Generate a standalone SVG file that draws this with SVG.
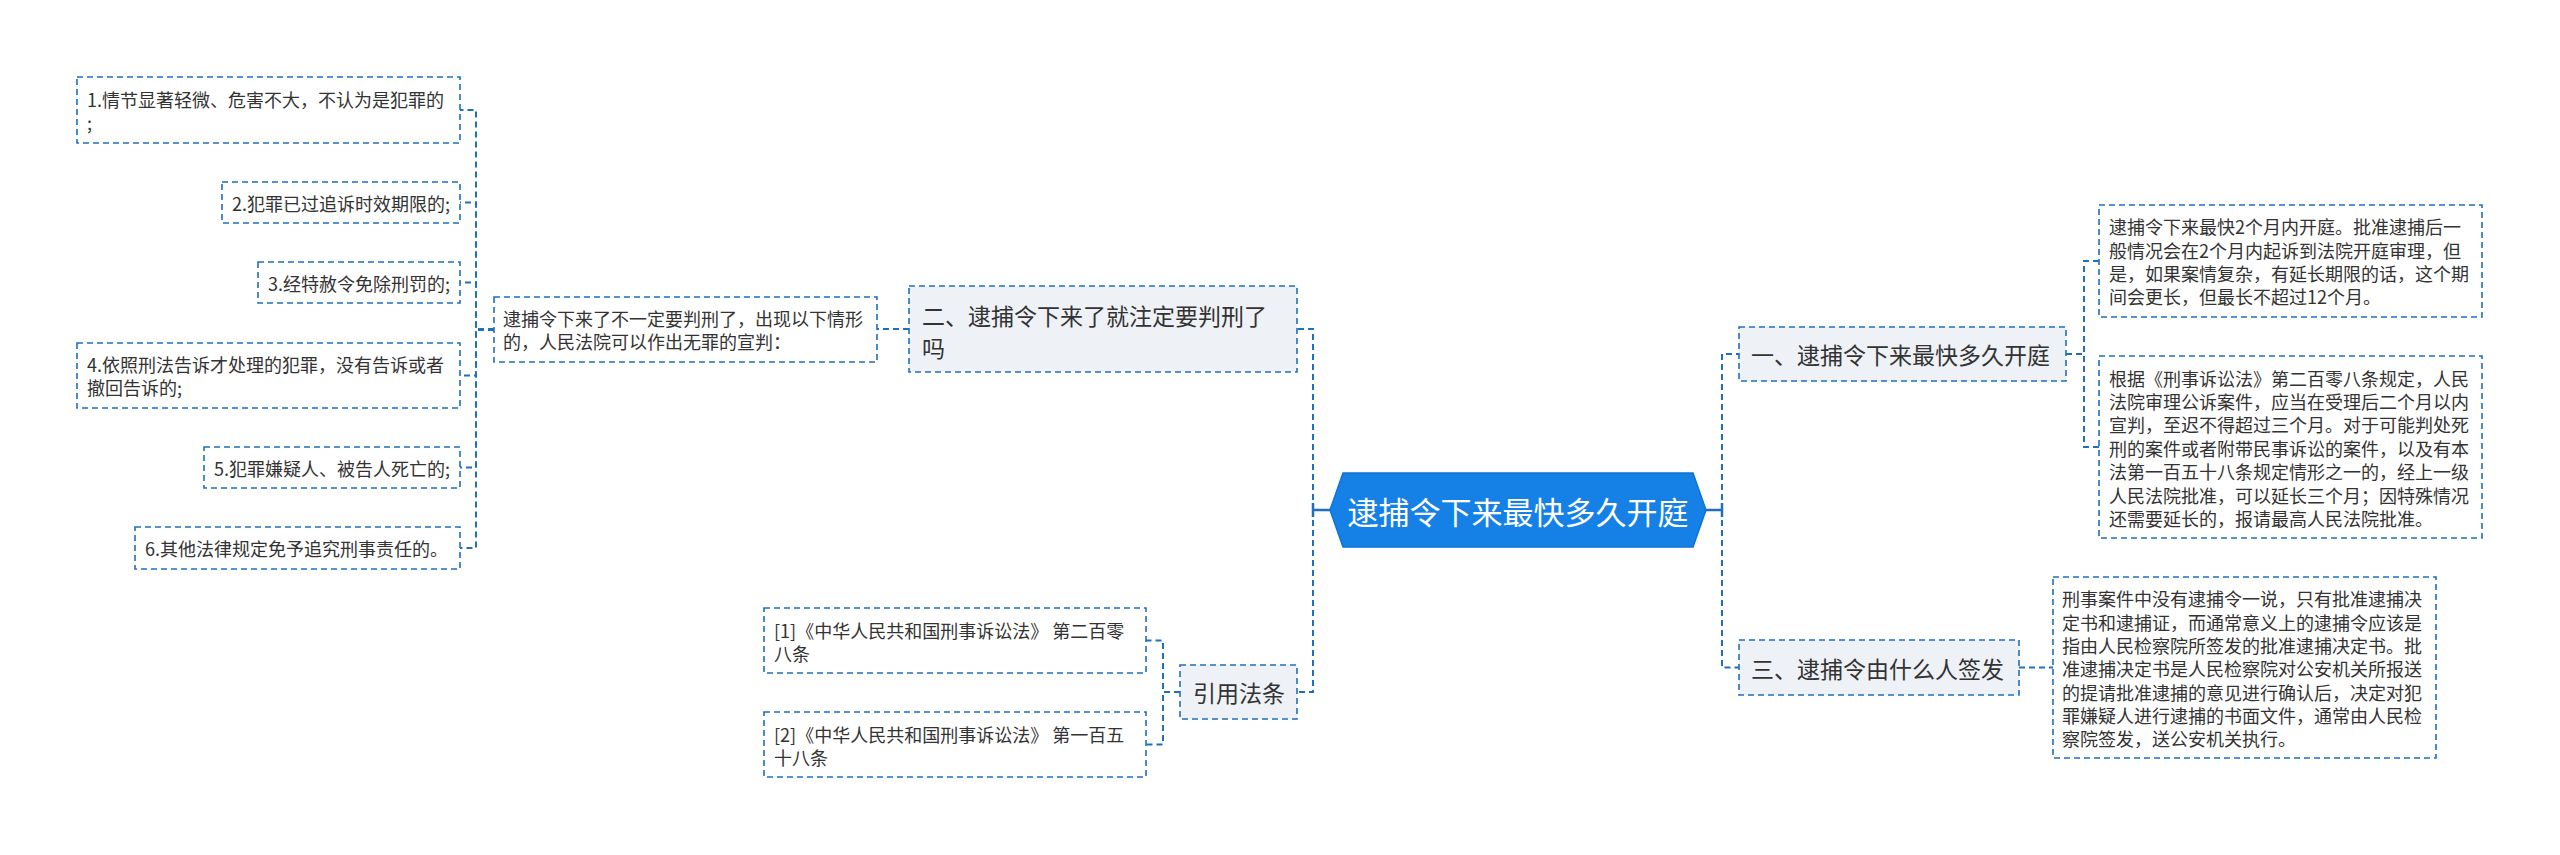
<svg xmlns="http://www.w3.org/2000/svg" width="2560" height="855" viewBox="0 0 2560 855">
<style>
text{font-family:"Noto Sans CJK SC","Noto Sans",sans-serif;fill:#333;dominant-baseline:central}
.leaf{fill:#fff;stroke:#1f6fbf;stroke-width:1.6;stroke-dasharray:6 4}
.sub{fill:#eef1f5;stroke:#1f6fbf;stroke-width:1.6;stroke-dasharray:6 4}
.t18{font-size:18px}
.t23{font-size:23px}
.con{fill:none;stroke:#1f6fbf;stroke-width:2;stroke-dasharray:6 4}
.solid{fill:none;stroke:#1f6fbf;stroke-width:2.5}
</style>
<rect width="2560" height="855" fill="#fff"/>
<g id="connectors">
<path class="solid" d="M1330 510H1313M1313 503V517"/>
<path class="con" d="M1313 510V329H1297"/>
<path class="con" d="M1313 510V692H1297"/>
<path class="solid" d="M1706 510H1722M1722 503V517"/>
<path class="con" d="M1722 510V354H1739"/>
<path class="con" d="M1722 510V667.5H1739"/>
<path class="con" d="M909 329H877"/>
<path class="con" d="M494 329.5H476V110H460"/>
<path class="con" d="M494 329.5H476V202.5H460"/>
<path class="con" d="M494 329.5H476V282.5H460"/>
<path class="con" d="M494 329.5H476V375.5H460"/>
<path class="con" d="M494 329.5H476V467.5H460"/>
<path class="con" d="M494 329.5H476V548H460"/>
<path class="con" d="M2066 354H2084V261H2099"/>
<path class="con" d="M2066 354H2084V447H2099"/>
<path class="con" d="M2019 667.5H2053"/>
<path class="con" d="M1180 692H1163V640.5H1146"/>
<path class="con" d="M1180 692H1163V744.5H1146"/>
</g>
<g id="center">
<polygon points="1343,473 1693,473 1706,510 1693,547 1343,547 1330,510" fill="#1581e6" stroke="#1172d6" stroke-width="1.5"/>
<text x="1518" y="510" font-size="31" text-anchor="middle" style="fill:#fff">逮捕令下来最快多久开庭</text>
</g>
<g id="node-er">
<rect class="sub" x="909" y="286" width="388" height="86"/>
<text class="t23" x="922" y="315">二、逮捕令下来了就注定要判刑了</text>
<text class="t23" x="922" y="347">吗</text>
</g>
<g id="node-er-detail">
<rect class="leaf" x="494" y="297" width="383" height="65"/>
<text class="t18" x="503" y="318">逮捕令下来了不一定要判刑了，出现以下情形</text>
<text class="t18" x="503" y="341">的，人民法院可以作出无罪的宣判：</text>
</g>
<g id="leaf-1">
<rect class="leaf" x="77" y="77" width="383" height="66"/>
<text class="t18" x="87" y="99">1.情节显著轻微、危害不大，不认为是犯罪的</text>
<text class="t18" x="87" y="122">;</text>
</g>
<g id="leaf-2">
<rect class="leaf" x="222" y="182" width="238" height="41"/>
<text class="t18" x="232" y="202.5">2.犯罪已过追诉时效期限的;</text>
</g>
<g id="leaf-3">
<rect class="leaf" x="258" y="262" width="202" height="41"/>
<text class="t18" x="268" y="282.5">3.经特赦令免除刑罚的;</text>
</g>
<g id="leaf-4">
<rect class="leaf" x="77" y="343" width="383" height="65"/>
<text class="t18" x="87" y="364">4.依照刑法告诉才处理的犯罪，没有告诉或者</text>
<text class="t18" x="87" y="387">撤回告诉的;</text>
</g>
<g id="leaf-5">
<rect class="leaf" x="204" y="447" width="256" height="41"/>
<text class="t18" x="214" y="467.5">5.犯罪嫌疑人、被告人死亡的;</text>
</g>
<g id="leaf-6">
<rect class="leaf" x="135" y="527" width="325" height="42"/>
<text class="t18" x="145" y="548">6.其他法律规定免予追究刑事责任的。</text>
</g>
<g id="node-ref">
<rect class="sub" x="1180" y="665" width="117" height="54"/>
<text class="t23" x="1193" y="692">引用法条</text>
</g>
<g id="ref-1">
<rect class="leaf" x="764" y="608" width="382" height="65"/>
<text class="t18" x="774" y="629.5">[1]《中华人民共和国刑事诉讼法》 第二百零</text>
<text class="t18" x="774" y="652.5">八条</text>
</g>
<g id="ref-2">
<rect class="leaf" x="764" y="712" width="382" height="65"/>
<text class="t18" x="774" y="733.5">[2]《中华人民共和国刑事诉讼法》 第一百五</text>
<text class="t18" x="774" y="756.5">十八条</text>
</g>
<g id="node-yi">
<rect class="sub" x="1739" y="327" width="327" height="54"/>
<text class="t23" x="1751" y="354">一、逮捕令下来最快多久开庭</text>
</g>
<g id="yi-a">
<rect class="leaf" x="2099" y="205" width="383" height="112"/>
<text class="t18" x="2109" y="226">逮捕令下来最快2个月内开庭。批准逮捕后一</text>
<text class="t18" x="2109" y="249.5">般情况会在2个月内起诉到法院开庭审理，但</text>
<text class="t18" x="2109" y="273">是，如果案情复杂，有延长期限的话，这个期</text>
<text class="t18" x="2109" y="296">间会更长，但最长不超过12个月。</text>
</g>
<g id="yi-b">
<rect class="leaf" x="2099" y="356" width="383" height="182"/>
<text class="t18" x="2109" y="377.5">根据《刑事诉讼法》第二百零八条规定，人民</text>
<text class="t18" x="2109" y="401">法院审理公诉案件，应当在受理后二个月以内</text>
<text class="t18" x="2109" y="424">宣判，至迟不得超过三个月。对于可能判处死</text>
<text class="t18" x="2109" y="447.5">刑的案件或者附带民事诉讼的案件，以及有本</text>
<text class="t18" x="2109" y="471">法第一百五十八条规定情形之一的，经上一级</text>
<text class="t18" x="2109" y="494.5">人民法院批准，可以延长三个月；因特殊情况</text>
<text class="t18" x="2109" y="517.5">还需要延长的，报请最高人民法院批准。</text>
</g>
<g id="node-san">
<rect class="sub" x="1739" y="640" width="280" height="55"/>
<text class="t23" x="1751" y="667.5">三、逮捕令由什么人签发</text>
</g>
<g id="san-a">
<rect class="leaf" x="2053" y="577" width="383" height="181"/>
<text class="t18" x="2062" y="598">刑事案件中没有逮捕令一说，只有批准逮捕决</text>
<text class="t18" x="2062" y="621.5">定书和逮捕证，而通常意义上的逮捕令应该是</text>
<text class="t18" x="2062" y="645">指由人民检察院所签发的批准逮捕决定书。批</text>
<text class="t18" x="2062" y="668">准逮捕决定书是人民检察院对公安机关所报送</text>
<text class="t18" x="2062" y="691.5">的提请批准逮捕的意见进行确认后，决定对犯</text>
<text class="t18" x="2062" y="714.5">罪嫌疑人进行逮捕的书面文件，通常由人民检</text>
<text class="t18" x="2062" y="738">察院签发，送公安机关执行。</text>
</g>
</svg>
